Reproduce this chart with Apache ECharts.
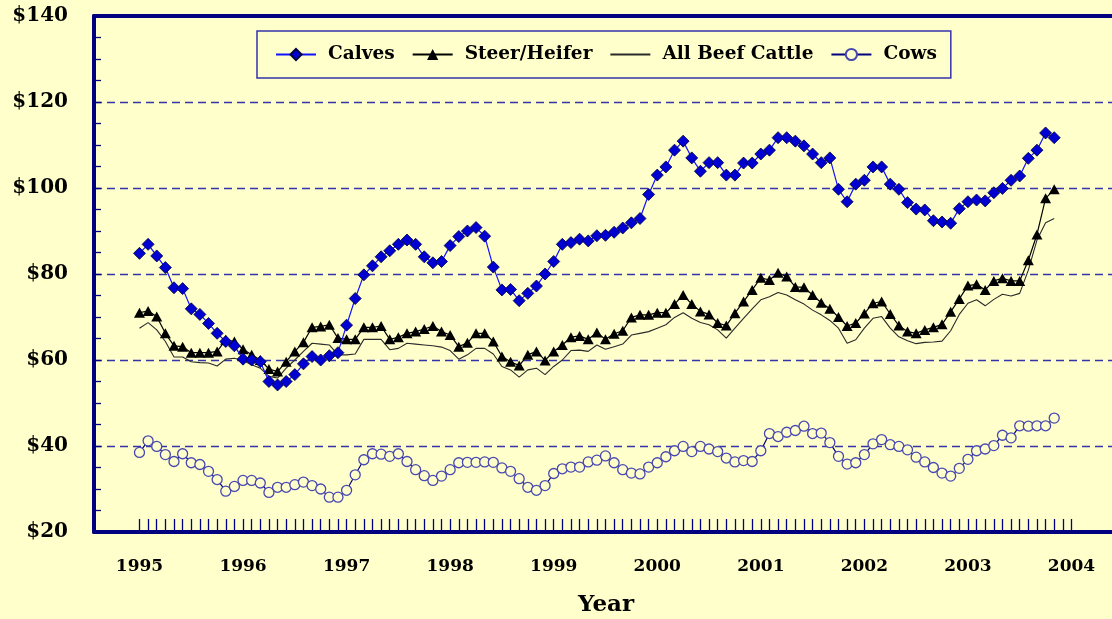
<!DOCTYPE html>
<html>
<head>
<meta charset="utf-8">
<script src="https://cdn.jsdelivr.net/npm/echarts@6/dist/echarts.min.js"></script>
<style>
  html, body { margin: 0; padding: 0; background: #FFFFCC; }
  #chart { width: 1112px; height: 619px; }
</style>
</head>
<body>
<div id="chart"></div>
<script>
  // monthly prices, Jan 1995 .. Nov 2003 ($/cwt)
  const startYear = 1995
  const yearLabels = ['1995', '1996', '1997', '1998', '1999', '2000', '2001', '2002', '2003', '2004']

  const calves = [
    84.8, 86.9, 84.2, 81.5, 76.8, 76.6, 71.9, 70.6, 68.5, 66.2, 64.3, 63.3,
    60.2, 60.0, 59.6, 55.0, 54.2, 55.0, 56.6, 59.1, 60.8, 60.0, 61.0, 61.7,
    68.1, 74.3, 79.8, 81.9, 84.0, 85.4, 86.9, 87.9, 86.9, 84.0, 82.6, 82.9,
    86.6, 88.7, 90.0, 90.8, 88.8, 81.6, 76.3, 76.4, 73.8, 75.5, 77.2, 80.0,
    82.9, 86.9, 87.3, 88.1, 87.7, 88.9, 89.0, 89.7, 90.7, 91.9, 92.9, 98.5,
    103.0, 104.9, 108.8, 110.9, 107.0, 103.9, 105.9, 105.9, 103.0, 103.0, 105.8, 105.8,
    107.9, 108.8, 111.7, 111.7, 110.9, 109.8, 107.9, 105.9, 107.0, 99.7, 96.8, 100.9,
    101.8, 104.9, 104.9, 100.9, 99.7, 96.6, 95.1, 94.9, 92.4, 92.1, 91.8, 95.2,
    96.8, 97.2, 97.0, 98.9, 99.9, 101.8, 102.8, 106.9, 108.8, 112.8, 111.7
  ]

  const steerHeifer = [
    71.0, 71.4, 70.1, 66.2, 63.3, 63.1, 61.7, 61.7, 61.7, 62.0, 64.7, 64.3,
    62.5, 61.2, 60.0, 57.9, 57.3, 59.6, 62.0, 64.1, 67.6, 67.8, 68.2, 65.1,
    64.8, 64.8, 67.6, 67.6, 67.9, 64.8, 65.3, 66.2, 66.6, 67.2, 67.9, 66.6,
    65.8, 63.1, 64.0, 66.2, 66.2, 64.3, 60.8, 59.6, 58.7, 61.2, 62.0, 59.9,
    62.0, 63.5, 65.3, 65.6, 64.8, 66.4, 64.8, 66.1, 66.8, 69.9, 70.5, 70.5,
    71.0, 71.0, 73.0, 75.1, 73.0, 71.3, 70.6, 68.6, 68.0, 70.9, 73.6, 76.3,
    79.1, 78.6, 80.3, 79.4, 77.0, 76.9, 75.1, 73.3, 71.9, 70.0, 67.9, 68.6,
    70.8, 73.2, 73.6, 70.7, 68.0, 66.6, 66.2, 67.0, 67.6, 68.3, 71.2, 74.2,
    77.3, 77.6, 76.3, 78.4, 79.0, 78.4, 78.4, 83.2, 89.2, 97.6, 99.7
  ]

  const allBeefCattle = [
    67.4, 68.7, 67.0, 64.3, 60.7, 60.7, 59.6, 59.4, 59.3, 58.6, 60.2, 60.4,
    59.9, 58.9, 58.1, 56.2, 55.8, 58.1, 60.0, 62.0, 63.9, 63.7, 63.5, 61.2,
    61.2, 61.4, 64.8, 64.8, 64.8, 62.4, 62.7, 63.9, 63.7, 63.5, 63.3, 63.0,
    62.2, 60.2, 61.2, 62.7, 62.7, 61.4, 58.5, 57.7, 56.0, 57.7, 58.1, 56.6,
    58.5, 60.0, 62.2, 62.3, 62.0, 63.5, 62.5, 63.1, 63.7, 65.8, 66.2, 66.6,
    67.4, 68.2, 69.9, 71.0, 69.7, 68.7, 68.2, 67.0, 65.1, 67.4, 69.7, 71.9,
    74.0, 74.7, 75.7, 75.1, 74.0, 73.0, 71.6, 70.5, 69.2, 67.4, 63.9, 64.7,
    67.4, 69.7, 70.1, 67.4, 65.4, 64.5, 63.8, 64.1, 64.2, 64.4, 66.8, 70.6,
    73.2, 74.0, 72.6, 74.1, 75.3, 74.9, 75.5, 80.9, 87.9, 91.9, 92.9
  ]

  const cows = [
    38.5, 41.2, 39.9, 38.0, 36.4, 38.2, 36.1, 35.7, 34.1, 32.2, 29.5, 30.6,
    32.0, 32.0, 31.4, 29.2, 30.4, 30.4, 31.0, 31.6, 30.8, 30.0, 28.1, 28.1,
    29.7, 33.3, 36.8, 38.2, 38.1, 37.6, 38.2, 36.4, 34.5, 33.1, 32.0, 33.0,
    34.5, 36.1, 36.2, 36.2, 36.3, 36.2, 34.9, 34.1, 32.4, 30.4, 29.7, 30.8,
    33.6, 34.7, 35.1, 35.1, 36.3, 36.7, 37.7, 36.1, 34.5, 33.7, 33.5, 35.1,
    36.1, 37.5, 38.9, 39.9, 38.7, 39.9, 39.3, 38.7, 37.2, 36.3, 36.6, 36.4,
    38.9, 42.9, 42.2, 43.2, 43.6, 44.6, 42.9, 43.0, 40.8, 37.6, 35.8, 36.1,
    38.0, 40.5, 41.5, 40.3, 39.9, 39.1, 37.4, 36.3, 35.0, 33.7, 33.0, 34.8,
    36.9, 38.9, 39.3, 40.1, 42.5, 41.9, 44.7, 44.6, 44.7, 44.7, 46.5
  ]

  const navy = '#000080'
  const serif = 'DejaVu Serif'
  const xMin = -5.27
  const xMax = 113.39

  // x position = month index since Jan 1995
  function toPairs(values) {
    return values.map((v, i) => [i, v])
  }

  const monthTicks = []
  for (let m = 0; m <= (yearLabels.length - 1) * 12; m++) monthTicks.push(m)
  const yearTicks = yearLabels.map((y, i) => i * 12)

  const chart = echarts.init(document.getElementById('chart'))

  const option = {
    backgroundColor: '#FFFFCC',
    animation: false,
    grid: {
      left: 94,
      right: -6, // no right frame, push it off the canvas
      top: 16,
      bottom: 87,
      outerBoundsMode: 'none',
      containLabel: false
    },
    legend: {
      left: 257,
      top: 31,
      itemWidth: 40,
      itemHeight: 14,
      itemGap: 17,
      padding: [14, 14, 14, 18],
      borderColor: '#3333AA',
      borderWidth: 1.5,
      backgroundColor: '#FFFFCC',
      textStyle: {
        fontFamily: serif,
        fontWeight: 'bold',
        fontSize: 18.5,
        color: '#000',
        padding: [0, 0, 0, 7]
      },
      data: [
        'Calves',
        'Steer/Heifer',
        { name: 'All Beef Cattle', itemStyle: { opacity: 0 } },
        'Cows'
      ]
    },
    xAxis: [
      {
        type: 'value',
        min: xMin,
        max: xMax,
        name: 'Year',
        nameLocation: 'middle',
        nameGap: 62,
        nameTextStyle: {
          fontFamily: serif,
          fontWeight: 'bold',
          fontSize: 23,
          color: '#000'
        },
        splitLine: { show: false },
        axisLine: { onZero: false, lineStyle: { color: navy, width: 4 } },
        axisTick: {
          customValues: monthTicks,
          inside: true,
          length: 13,
          lineStyle: { color: navy, width: 1.3 }
        },
        axisLabel: {
          customValues: yearTicks,
          margin: 26,
          fontFamily: serif,
          fontWeight: 'bold',
          fontSize: 17,
          color: '#000',
          formatter: (v) => String(startYear + Math.round(v / 12))
        }
      },
      {
        // top frame line only
        type: 'value',
        position: 'top',
        min: xMin,
        max: xMax,
        splitLine: { show: false },
        axisLine: { onZero: false, lineStyle: { color: navy, width: 4 } },
        axisTick: { show: false },
        axisLabel: { show: false }
      }
    ],
    yAxis: {
      type: 'value',
      min: 20,
      max: 140,
      interval: 20,
      axisLine: { show: true, onZero: false, lineStyle: { color: navy, width: 4 } },
      axisTick: {
        show: true,
        inside: true,
        length: 7,
        lineStyle: { color: navy, width: 1.3 }
      },
      minorTick: {
        show: true,
        splitNumber: 4,
        length: 7,
        lineStyle: { color: navy, width: 1.3 }
      },
      splitLine: {
        lineStyle: { color: '#3333AA', width: 1.3, type: [8, 5] }
      },
      axisLabel: {
        margin: 26,
        fontFamily: serif,
        fontWeight: 'bold',
        fontSize: 20,
        color: '#000',
        formatter: (v) => '$' + v
      }
    },
    series: [
      {
        name: 'Cows',
        type: 'line',
        data: toPairs(cows),
        symbol: 'circle',
        symbolSize: 10,
        lineStyle: { color: navy, width: 1.2 },
        itemStyle: { color: '#FFFFCC', borderColor: '#4848B0', borderWidth: 1.3 },
        z: 2
      },
      {
        name: 'All Beef Cattle',
        type: 'line',
        data: toPairs(allBeefCattle),
        symbol: 'none',
        lineStyle: { color: '#2a2a2a', width: 1.1 },
        itemStyle: { color: '#2a2a2a' },
        z: 3
      },
      {
        name: 'Steer/Heifer',
        type: 'line',
        data: toPairs(steerHeifer),
        symbol: 'triangle',
        symbolSize: [11, 10],
        lineStyle: { color: '#000', width: 1.2 },
        itemStyle: { color: '#000' },
        z: 4
      },
      {
        name: 'Calves',
        type: 'line',
        data: toPairs(calves),
        symbol: 'diamond',
        symbolSize: [12, 12],
        lineStyle: { color: '#1010FF', width: 1.2 },
        itemStyle: { color: '#0000D0', borderColor: '#000040', borderWidth: 0.8 },
        z: 5
      }
    ]
  }

  chart.setOption(option)
</script>
</body>
</html>
